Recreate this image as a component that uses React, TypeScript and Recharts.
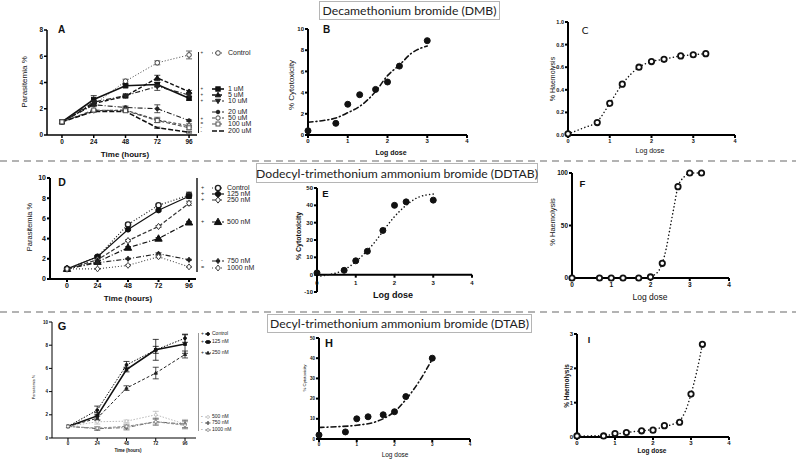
import React from "react";
import {
  ComposedChart, Line, Scatter, XAxis, YAxis, ErrorBar, ReferenceLine,
} from "recharts";

const FONT = '"Liberation Sans", Arial, sans-serif';
const BOX_FONT = 'Lato, "Open Sans", sans-serif';

// ---------- time course data (hours) ----------
const HOURS = [0, 24, 48, 72, 96];

// A: DMB
const A_LABELS = ["Control", "1 uM", "5 uM", "10 uM", "20 uM", "50 uM", "100 uM", "200 uM"];
const A_SIG = ["+", "+", "+", "+", "+", "=", "-", "-"];
const A_CONTROL = [1, 2.3, 4.1, 5.5, 6.1];
const A_1UM = [1, 2.7, 3.75, 3.85, 2.8];
const A_5UM = [1, 2.4, 2.95, 4.35, 3.3];
const A_10UM = [1, 2.5, 3.0, 3.7, 3.05];
const A_20UM = [1, 2.3, 2.1, 2.0, 1.1];
const A_50UM = [1, 1.85, 1.9, 1.15, 0.7];
const A_100UM = [1, 1.9, 1.85, 1.1, 0.55];
const A_200UM = [1, 1.8, 1.8, 0.55, 0.2];
const A_CONTROL_ERR = [0, 0.1, 0.15, 0.15, 0.3];
const A_1UM_ERR = [0, 0.3, 0.1, 0.15, 0.15];
const A_5UM_ERR = [0, 0.15, 0.05, 0.2, 0.1];
const A_10UM_ERR = [0, 0.1, 0.05, 0.3, 0.15];
const A_20UM_ERR = [0, 0.1, 0.1, 0.3, 0.05];
const A_50UM_ERR = [0, 0.05, 0.1, 0.2, 0.15];
const A_100UM_ERR = [0, 0.05, 0.1, 0.15, 0.15];
const A_200UM_ERR = [0, 0.05, 0.05, 0.05, 0.05];

// D: DDTAB
const D_LABELS = ["Control", "125 nM", "250 nM", "500 nM", "750 nM", "1000 nM"];
const D_SIG = ["+", "+", "+", "+", "-", "="];
const D_CONTROL = [1, 2.2, 5.4, 7.3, 8.3];
const D_125 = [1, 2.2, 4.9, 6.8, 8.2];
const D_250 = [1, 1.9, 3.8, 5.2, 7.5];
const D_500 = [1, 1.7, 3.1, 4.0, 5.6];
const D_750 = [1, 1.6, 2.0, 2.5, 1.9];
const D_1000 = [1, 1.0, 1.35, 2.2, 1.2];
const D_CONTROL_ERR = [0, 0.1, 0.15, 0.1, 0.3];
const D_125_ERR = [0, 0.1, 0.1, 0.1, 0.2];
const D_250_ERR = [0, 0.1, 0.1, 0.1, 0.2];
const D_500_ERR = [0, 0.1, 0.1, 0.1, 0.1];
const D_750_ERR = [0, 0.05, 0.05, 0.1, 0.05];
const D_1000_ERR = [0, 0.05, 0.05, 0.1, 0.05];

// G: DTAB
const G_LABELS = ["Control", "125 nM", "250 nM", "500 nM", "750 nM", "1000 nM"];
const G_SIG = ["+", "+", "+", "-", "-", "-"];
const G_CONTROL = [1, 2.4, 6.3, 7.6, 8.6];
const G_125 = [1, 1.9, 5.9, 7.6, 8.1];
const G_250 = [1, 1.7, 4.3, 5.6, 7.2];
const G_500 = [1, 1.4, 1.45, 2.0, 1.2];
const G_750 = [1, 0.8, 0.9, 1.4, 1.2];
const G_1000 = [1, 0.85, 1.0, 1.4, 1.1];
const G_CONTROL_ERR = [0, 0.35, 0.3, 0.3, 0.35];
const G_125_ERR = [0, 0.3, 0.2, 0.9, 0.8];
const G_250_ERR = [0, 0.2, 0.2, 0.5, 0.3];
const G_500_ERR = [0, 0.2, 0.1, 0.3, 0.4];
const G_750_ERR = [0, 0.15, 0.2, 0.3, 0.3];
const G_1000_ERR = [0, 0.1, 0.2, 0.2, 0.3];

// ---------- dose response data (log dose) ----------
const DOSE_8 = [0, 0.7, 1, 1.3, 1.7, 2, 2.3, 3];
const DOSE_10 = [0, 0.7, 1, 1.3, 1.7, 2, 2.3, 2.7, 3, 3.3];

const B_CYTO = [0.4, 1.1, 2.9, 3.8, 4.3, 5.0, 6.5, 8.9];
const B_FIT_X = [0, 0.35, 0.7, 1, 1.3, 1.7, 2, 2.3, 2.6, 3];
const B_FIT_Y = [1.2, 1.35, 1.6, 2.1, 2.7, 4.1, 5.6, 6.6, 7.7, 8.4];

const C_HAEMO = [0.01, 0.11, 0.28, 0.45, 0.6, 0.65, 0.67, 0.7, 0.71, 0.72];
const C_FIT_X = [0, 0.35, 0.7, 1, 1.3, 1.7, 2, 2.3, 2.7, 3, 3.3];
const C_FIT_Y = [0.01, 0.06, 0.12, 0.28, 0.45, 0.6, 0.65, 0.67, 0.7, 0.71, 0.72];

const E_CYTO = [1, 2.5, 8, 13.5, 25.5, 40, 42, 43];
const E_FIT_X = [0.1, 0.3, 0.5, 0.7, 1, 1.3, 1.5, 1.7, 2, 2.3, 2.6, 3];
const E_FIT_Y = [-0.8, 0, 1, 2.8, 7.5, 14, 19, 25, 33.5, 40, 44.5, 46.5];

const F_HAEMO = [0, 0, 0, 0, 0, 1, 14, 87, 100, 100];
const F_FIT_X = [0, 0.7, 1, 1.5, 1.9, 2.1, 2.3, 2.4, 2.5, 2.6, 2.7, 2.85, 3, 3.3];
const F_FIT_Y = [0, 0, 0, 0, 0.5, 3, 14, 28, 48, 68, 87, 96, 100, 100];

const H_CYTO = [2, 3.5, 10, 11, 12, 13.5, 21, 40];
const H_FIT_X = [0, 0.5, 1, 1.5, 1.75, 2, 2.3, 2.6, 3];
const H_FIT_Y = [5.7, 6.1, 6.8, 8.5, 10.5, 13.5, 19.5, 27, 39.5];

const I_HAEMO = [0.03, 0.03, 0.1, 0.13, 0.18, 0.2, 0.33, 0.43, 1.25, 2.7];
const I_FIT_X = [0, 0.7, 1, 1.3, 1.7, 2, 2.3, 2.7, 2.85, 3, 3.15, 3.3];
const I_FIT_Y = [0.03, 0.04, 0.08, 0.13, 0.18, 0.22, 0.3, 0.48, 0.75, 1.25, 1.9, 2.7];

const rows = (xs: number[], ys: number[], es?: number[]) =>
  xs.map((x, i) => ({ x, y: ys[i], e: es ? es[i] : 0 }));

type Sty = { dash?: string; w: number; color: string; kind: string; r: number; open?: boolean; sw?: number };

function Mark({ cx, cy, kind, r, color, open, sw = 1 }: any) {
  if (cx == null || cy == null || kind === "none") return null;
  const c = { fill: open ? "#fff" : color, stroke: color, strokeWidth: sw };
  if (kind === "square") return <rect x={cx - r} y={cy - r} width={2 * r} height={2 * r} {...c} />;
  if (kind === "tri")
    return <polygon points={`${cx},${cy - r * 1.2} ${cx - r * 1.15},${cy + r * 0.8} ${cx + r * 1.15},${cy + r * 0.8}`} {...c} />;
  if (kind === "tridown")
    return <polygon points={`${cx},${cy + r * 1.2} ${cx - r * 1.15},${cy - r * 0.8} ${cx + r * 1.15},${cy - r * 0.8}`} {...c} />;
  if (kind === "diamond")
    return <polygon points={`${cx},${cy - r * 1.3} ${cx + r},${cy} ${cx},${cy + r * 1.3} ${cx - r},${cy}`} {...c} />;
  return <circle cx={cx} cy={cy} r={r} {...c} />;
}

type Geo = {
  axisX: number; right: number; top: number; bottom: number;
  xDomain: [number, number]; yDomain: [number, number];
  xTicks: number[]; yTicks: number[]; fs: number; aw: number;
  yFmt?: (v: number) => string; zeroAxis?: boolean;
};

const YW = 30, XH = 18, MT = 6, MR = 6;

function Panel({ g, children }: { g: Geo; children: React.ReactNode }) {
  const plotH = g.bottom - g.top;
  const zeroY = MT + (plotH * g.yDomain[1]) / (g.yDomain[1] - g.yDomain[0]);
  const tickStyle = { fontSize: g.fs, fontWeight: 700, fill: "#111", fontFamily: FONT };
  const zeroTick = (p: any) => (
    <g>
      <line x1={p.x} x2={p.x} y1={zeroY} y2={zeroY + 3} stroke="#000" strokeWidth={g.aw} />
      <text x={p.x} y={zeroY + 4 + g.fs} textAnchor="middle" {...tickStyle}>{p.payload.value}</text>
    </g>
  );
  return (
    <div style={{ position: "absolute", left: g.axisX - YW, top: g.top - MT }}>
      <ComposedChart
        width={YW + g.right - g.axisX + MR}
        height={MT + plotH + XH}
        margin={{ top: MT, right: MR, left: 0, bottom: 0 }}
      >
        <XAxis
          type="number" dataKey="x" domain={g.xDomain} ticks={g.xTicks}
          height={XH} interval={0}
          axisLine={g.zeroAxis ? false : { stroke: "#000", strokeWidth: g.aw }}
          tickLine={g.zeroAxis ? false : { stroke: "#000", strokeWidth: g.aw }}
          tickSize={3} tickMargin={1}
          tick={g.zeroAxis ? zeroTick : tickStyle}
        />
        <YAxis
          type="number" dataKey="y" domain={g.yDomain} ticks={g.yTicks}
          width={YW} interval={0}
          axisLine={{ stroke: "#000", strokeWidth: g.aw }}
          tickLine={{ stroke: "#000", strokeWidth: g.aw }}
          tickSize={3} tickMargin={1}
          tick={tickStyle} tickFormatter={g.yFmt}
        />
        {g.zeroAxis && <ReferenceLine y={0} stroke="#000" strokeWidth={g.aw} />}
        {children}
      </ComposedChart>
    </div>
  );
}

function timeLines(series: { data: any[]; s: Sty }[]) {
  return series.map(({ data, s }, i) => (
    <Line
      key={i} data={data} dataKey="y" type="linear" stroke={s.color} strokeWidth={s.w}
      strokeDasharray={s.dash} isAnimationActive={false} legendType="none"
      dot={s.kind === "none" ? false : (p: any) => <Mark key={`m${i}-${p.index}`} cx={p.cx} cy={p.cy} {...s} />}
      activeDot={false}
    >
      <ErrorBar dataKey="e" direction="y" width={3} stroke={s.color} strokeWidth={0.8} />
    </Line>
  ));
}

function doseSeries(points: any[], fit: any[], pt: Sty, line: Sty) {
  return [
    <Line
      key="fit" data={fit} dataKey="y" type="monotone" stroke={line.color} strokeWidth={line.w}
      strokeDasharray={line.dash} strokeLinecap="round" dot={false} activeDot={false}
      isAnimationActive={false}
    />,
    <Scatter
      key="pts" data={points} isAnimationActive={false}
      shape={(p: any) => <Mark cx={p.cx} cy={p.cy} {...pt} />}
    />,
  ];
}

function Txt({ x, y, size, bold, children, rot, font, color }: any) {
  return (
    <div
      style={{
        position: "absolute", left: x, top: y, fontSize: size, lineHeight: 1,
        fontWeight: bold ? 700 : 400, fontFamily: font || FONT, color: color || "#111",
        whiteSpace: "nowrap",
        transform: `translate(-50%, -50%)${rot ? " rotate(-90deg)" : ""}`,
      }}
    >
      {children}
    </div>
  );
}

function LegendBlock({ items, bar, sigX, symX, symW, textX, fs, sigFs }: any) {
  return (
    <>
      <div style={{ position: "absolute", left: bar.x, top: bar.y1, width: bar.w, height: bar.y2 - bar.y1, background: bar.color }} />
      {items.map((it: any, i: number) => (
        <React.Fragment key={i}>
          <div style={{ position: "absolute", left: sigX, top: it.sy - sigFs * 0.55, fontSize: sigFs, lineHeight: 1, fontFamily: FONT, color: "#222" }}>{it.sig}</div>
          <svg style={{ position: "absolute", left: symX, top: it.y - 5 }} width={symW} height={10}>
            <line x1={0} x2={symW} y1={5} y2={5} stroke={it.s.color} strokeWidth={Math.max(1, it.s.w)} strokeDasharray={it.s.dash} />
            <Mark cx={symW / 2} cy={5} {...it.s} />
          </svg>
          <div style={{ position: "absolute", left: textX, top: it.y - fs * 0.55, fontSize: fs, lineHeight: 1.1, fontFamily: FONT, color: "#222", whiteSpace: "nowrap" }}>{it.label}</div>
        </React.Fragment>
      ))}
    </>
  );
}

// ---------- styles ----------
const A_STY: Sty[] = [
  { dash: "1 2", w: 1, color: "#444", kind: "circle", r: 2.3, open: true, sw: 1 },
  { w: 1.6, color: "#111", kind: "square", r: 2.2 },
  { dash: "4 2", w: 1.4, color: "#111", kind: "tri", r: 2.3 },
  { dash: "5 2 1 2", w: 1.2, color: "#222", kind: "tridown", r: 2.2 },
  { dash: "5 2 1 2", w: 1.1, color: "#222", kind: "circle", r: 1.8 },
  { dash: "3 2", w: 1.1, color: "#444", kind: "circle", r: 2.2, open: true, sw: 1 },
  { dash: "4 2", w: 1.1, color: "#555", kind: "square", r: 2, open: true, sw: 1 },
  { dash: "5 2", w: 1.5, color: "#111", kind: "none", r: 0 },
];
const D_STY: Sty[] = [
  { dash: "1 2", w: 1.2, color: "#222", kind: "circle", r: 2.6, open: true, sw: 1.4 },
  { w: 1.2, color: "#111", kind: "circle", r: 2.6 },
  { dash: "4 2", w: 1.2, color: "#333", kind: "diamond", r: 2.4, open: true, sw: 1 },
  { dash: "5 2 1 2", w: 1.2, color: "#111", kind: "tri", r: 3.2 },
  { dash: "5 2 1 2", w: 1.1, color: "#222", kind: "diamond", r: 2 },
  { dash: "1 2", w: 1.1, color: "#444", kind: "diamond", r: 2.3, open: true, sw: 1 },
];
const G_STY: Sty[] = [
  { dash: "1.5 1.5", w: 1, color: "#111", kind: "circle", r: 1.4 },
  { w: 1.6, color: "#111", kind: "square", r: 1.3 },
  { dash: "3 2", w: 1, color: "#222", kind: "tri", r: 1.4 },
  { dash: "1.5 1.5", w: 1, color: "#bbb", kind: "circle", r: 1.4, open: true, sw: 0.8 },
  { dash: "4 1.5 1 1.5", w: 1, color: "#666", kind: "diamond", r: 1.4 },
  { dash: "3 1.5", w: 1, color: "#888", kind: "circle", r: 1.4, open: true, sw: 0.8 },
];

const PT_FILLED: Sty = { w: 1, color: "#111", kind: "circle", r: 3 };
const PT_OPEN: Sty = { w: 1, color: "#111", kind: "circle", r: 2.7, open: true, sw: 1.8 };
const FIT_DASHDOT: Sty = { w: 1.6, color: "#111", kind: "none", r: 0, dash: "5 3 1 3" };
const FIT_DOT: Sty = { w: 1.5, color: "#111", kind: "none", r: 0, dash: "0.1 3.5" };

// ---------- geometry ----------
const GA: Geo = { axisX: 47, right: 197, top: 30, bottom: 135, xDomain: [-11.3, 102], yDomain: [0, 8], xTicks: HOURS, yTicks: [0, 2, 4, 6, 8], fs: 6.5, aw: 1.5 };
const GB: Geo = { axisX: 308, right: 467, top: 29, bottom: 135, xDomain: [0, 4], yDomain: [0, 10], xTicks: [0, 1, 2, 3, 4], yTicks: [0, 2, 4, 6, 8, 10], fs: 6, aw: 2 };
const GC: Geo = { axisX: 568, right: 735, top: 22, bottom: 135, xDomain: [0, 4], yDomain: [0, 1], xTicks: [0, 1, 2, 3, 4], yTicks: [0, 0.2, 0.4, 0.6, 0.8, 1], fs: 5.5, aw: 2, yFmt: (v) => v.toFixed(1) };
const GD: Geo = { axisX: 50, right: 196, top: 178, bottom: 279, xDomain: [-13.4, 101.5], yDomain: [0, 10], xTicks: HOURS, yTicks: [0, 2, 4, 6, 8, 10], fs: 7, aw: 2 };
const GE: Geo = { axisX: 317, right: 472, top: 188, bottom: 292, xDomain: [0, 4], yDomain: [-10, 50], xTicks: [0, 1, 2, 3, 4], yTicks: [-10, 0, 10, 20, 30, 40, 50], fs: 6, aw: 2, zeroAxis: true };
const GF: Geo = { axisX: 572, right: 729, top: 173, bottom: 278, xDomain: [0, 4], yDomain: [0, 100], xTicks: [0, 1, 2, 3, 4], yTicks: [0, 50, 100], fs: 6.5, aw: 2 };
const GG: Geo = { axisX: 52, right: 196, top: 322, bottom: 438, xDomain: [-13.1, 105], yDomain: [0, 10], xTicks: HOURS, yTicks: [0, 2, 4, 6, 8, 10], fs: 4.5, aw: 1 };
const GH: Geo = { axisX: 319, right: 470, top: 338, bottom: 439, xDomain: [0, 4], yDomain: [0, 50], xTicks: [0, 1, 2, 3, 4], yTicks: [0, 10, 20, 30, 40, 50], fs: 4.5, aw: 2 };
const GI: Geo = { axisX: 577, right: 729, top: 334, bottom: 437, xDomain: [0, 4], yDomain: [0, 3], xTicks: [0, 1, 2, 3, 4], yTicks: [0, 1, 2, 3], fs: 6, aw: 2 };

export default function App() {
  const aVals = [A_CONTROL, A_1UM, A_5UM, A_10UM, A_20UM, A_50UM, A_100UM, A_200UM];
  const aErr = [A_CONTROL_ERR, A_1UM_ERR, A_5UM_ERR, A_10UM_ERR, A_20UM_ERR, A_50UM_ERR, A_100UM_ERR, A_200UM_ERR];
  const dVals = [D_CONTROL, D_125, D_250, D_500, D_750, D_1000];
  const dErr = [D_CONTROL_ERR, D_125_ERR, D_250_ERR, D_500_ERR, D_750_ERR, D_1000_ERR];
  const gVals = [G_CONTROL, G_125, G_250, G_500, G_750, G_1000];
  const gErr = [G_CONTROL_ERR, G_125_ERR, G_250_ERR, G_500_ERR, G_750_ERR, G_1000_ERR];

  const aRowY = [53, 89, 95, 101, 112, 118, 124, 131];
  const aSigY = [53, 89, 95, 101, 119, 124, 128, 132];
  const dRowY = [188, 194, 200, 222, 261, 268];
  const gRowY = [334, 342, 353, 417, 423, 430];

  return (
    <div style={{ position: "absolute", left: 0, top: 0, width: 796, height: 462, background: "#fff", overflow: "hidden", fontFamily: FONT }}>
      {/* separators */}
      <svg style={{ position: "absolute", left: 0, top: 0 }} width={796} height={462}>
        <line x1={0} x2={796} y1={161} y2={161} stroke="#9a9a9a" strokeWidth={1.5} strokeDasharray="7 5" />
        <line x1={0} x2={796} y1={312} y2={312} stroke="#9a9a9a" strokeWidth={1.5} strokeDasharray="7 5" />
      </svg>

      {/* row 1 */}
      <Panel g={GA}>{timeLines(aVals.map((v, i) => ({ data: rows(HOURS, v, aErr[i]), s: A_STY[i] })))}</Panel>
      <Panel g={GB}>{doseSeries(rows(DOSE_8, B_CYTO), rows(B_FIT_X, B_FIT_Y), PT_FILLED, FIT_DASHDOT)}</Panel>
      <Panel g={GC}>{doseSeries(rows(DOSE_10, C_HAEMO), rows(C_FIT_X, C_FIT_Y), PT_OPEN, FIT_DOT)}</Panel>

      {/* row 2 */}
      <Panel g={GD}>{timeLines(dVals.map((v, i) => ({ data: rows(HOURS, v, dErr[i]), s: D_STY[i] })))}</Panel>
      <Panel g={GE}>{doseSeries(rows(DOSE_8, E_CYTO), rows(E_FIT_X, E_FIT_Y), PT_FILLED, FIT_DOT)}</Panel>
      <Panel g={GF}>{doseSeries(rows(DOSE_10, F_HAEMO), rows(F_FIT_X, F_FIT_Y), PT_OPEN, FIT_DOT)}</Panel>

      {/* row 3 */}
      <Panel g={GG}>{timeLines(gVals.map((v, i) => ({ data: rows(HOURS, v, gErr[i]), s: G_STY[i] })))}</Panel>
      <Panel g={GH}>{doseSeries(rows(DOSE_8, H_CYTO), rows(H_FIT_X, H_FIT_Y), PT_FILLED, FIT_DASHDOT)}</Panel>
      <Panel g={GI}>{doseSeries(rows(DOSE_10, I_HAEMO), rows(I_FIT_X, I_FIT_Y), PT_OPEN, FIT_DOT)}</Panel>

      {/* legends */}
      <LegendBlock
        items={A_LABELS.map((label, i) => ({ label, sig: A_SIG[i], y: aRowY[i], sy: aSigY[i], s: A_STY[i] }))}
        bar={{ x: 197.5, y1: 52, y2: 133, w: 1, color: "#111" }}
        sigX={200.5} symX={212} symW={12} textX={228} fs={7} sigFs={4.5}
      />
      <LegendBlock
        items={D_LABELS.map((label, i) => ({ label, sig: D_SIG[i], y: dRowY[i], sy: dRowY[i], s: D_STY[i] }))}
        bar={{ x: 196, y1: 178, y2: 272, w: 2, color: "#555" }}
        sigX={201} symX={212} symW={12} textX={227} fs={7} sigFs={5.5}
      />
      <LegendBlock
        items={G_LABELS.map((label, i) => ({ label, sig: G_SIG[i], y: gRowY[i], sy: gRowY[i], s: G_STY[i] }))}
        bar={{ x: 197.5, y1: 333, y2: 431, w: 1.2, color: "#999" }}
        sigX={201} symX={205} symW={6} textX={212} fs={5} sigFs={5}
      />

      {/* axis titles */}
      <Txt x={125} y={155} size={8} bold>Time (hours)</Txt>
      <Txt x={25} y={82} size={8} rot>Parasitemia %</Txt>
      <Txt x={391} y={152} size={7} bold>Log dose</Txt>
      <Txt x={292} y={85} size={8} rot>% Cytotoxicity</Txt>
      <Txt x={650} y={150} size={7}>Log dose</Txt>
      <Txt x={552} y={79} size={7} rot>% Haemolysis</Txt>

      <Txt x={128} y={299} size={8} bold>Time (hours)</Txt>
      <Txt x={30} y={227} size={7.5} rot>Parasitemia %</Txt>
      <Txt x={393} y={295} size={9} bold>Log dose</Txt>
      <Txt x={298} y={236} size={7} rot bold>% Cytotoxicity</Txt>
      <Txt x={650} y={297} size={8.5}>Log dose</Txt>
      <Txt x={553} y={222} size={7.5} rot>% Haemolysis</Txt>

      <Txt x={128} y={451} size={4.5} bold>Time (hours)</Txt>
      <Txt x={35} y={387} size={3.8} rot>Parasitemia %</Txt>
      <Txt x={395} y={455} size={6.5}>Log dose</Txt>
      <Txt x={305} y={378} size={4.3} rot>% Cytotoxicity</Txt>
      <Txt x={652} y={451} size={6.5} bold>Log dose</Txt>
      <Txt x={567} y={386} size={6.5} rot bold>% Haemolysis</Txt>

      {/* panel letters */}
      <Txt x={61.5} y={30} size={10} bold>A</Txt>
      <Txt x={326.5} y={30} size={10} bold>B</Txt>
      <Txt x={585} y={30} size={10} font={BOX_FONT}>C</Txt>
      <Txt x={62} y={181.5} size={10.5} bold>D</Txt>
      <Txt x={325.5} y={193.5} size={9.5} bold>E</Txt>
      <Txt x={582.5} y={183.5} size={9.5} bold>F</Txt>
      <Txt x={62} y={326} size={11} bold>G</Txt>
      <Txt x={329} y={342.5} size={11} bold>H</Txt>
      <Txt x={589} y={340} size={9} bold>I</Txt>

      {/* compound title boxes */}
      {[
        { x: 319, y: 1, w: 181, h: 19, t: "Decamethonium bromide (DMB)" },
        { x: 256, y: 163, w: 282, h: 20, t: "Dodecyl-trimethonium ammonium bromide (DDTAB)" },
        { x: 267, y: 314, w: 265, h: 19, t: "Decyl-trimethonium ammonium bromide (DTAB)" },
      ].map((b, i) => (
        <div key={i} style={{
          position: "absolute", left: b.x, top: b.y, width: b.w, height: b.h, boxSizing: "border-box",
          border: "1px solid #b5b5b5", background: "#fff", display: "flex", alignItems: "center",
          justifyContent: "center", fontFamily: BOX_FONT, fontSize: 12.2, color: "#222", whiteSpace: "nowrap",
        }}>{b.t}</div>
      ))}
    </div>
  );
}
